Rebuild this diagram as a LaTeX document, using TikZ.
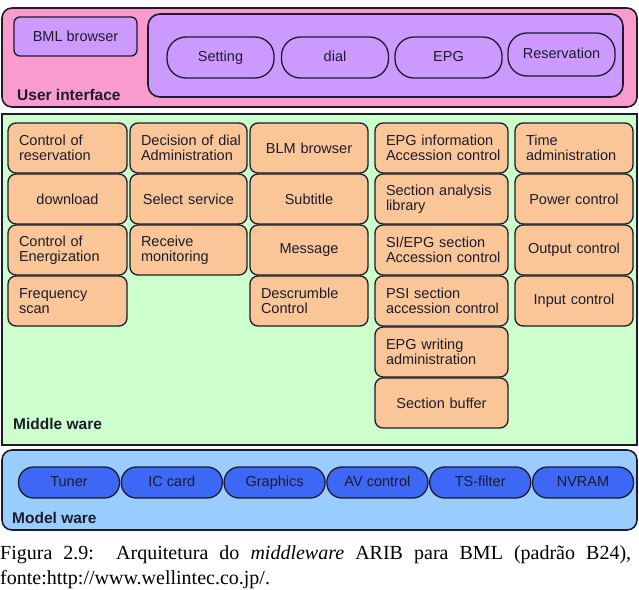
\documentclass[tikz,border=0pt]{standalone}
\usepackage{fontspec}
\setmainfont{Liberation Sans}
\newfontfamily\capfont{Liberation Serif}
\usepackage{tikz}

\definecolor{uipink}{RGB}{250,155,205}
\definecolor{uipurple}{RGB}{204,153,255}
\definecolor{mwgreen}{RGB}{204,255,204}
\definecolor{mworange}{RGB}{250,198,152}
\definecolor{hwlight}{RGB}{153,204,255}
\definecolor{hwblue}{RGB}{60,104,245}
\definecolor{ink}{RGB}{28,28,45}

\tikzset{
  layer/.style={draw=ink, line width=1.6pt},
  mwbox/.style={draw=ink, line width=1.3pt, fill=mworange, rounded corners=8pt,
    minimum height=50pt, inner xsep=11pt, text width=#1, text=ink,
    font=\fontsize{14.5}{15.5}\selectfont,
    execute at begin node={\hyphenpenalty=10000\exhyphenpenalty=10000}},
  uipill/.style={draw=ink, line width=1.3pt, fill=uipurple, rounded corners=19pt,
    minimum width=107pt, minimum height=41pt, text height=10.5pt, text depth=3pt,
    text=ink, font=\fontsize{14.5}{15.5}\selectfont},
  hwpill/.style={draw=ink, line width=1.3pt, fill=hwblue, rounded corners=15pt,
    minimum width=101pt, minimum height=31pt, text height=10.5pt, text depth=3pt,
    text=ink, font=\fontsize{14.5}{15.5}\selectfont},
  layername/.style={anchor=base west, inner sep=0pt, text=ink, font=\fontsize{15.5}{17}\bfseries\selectfont}
}

\begin{document}
\begin{tikzpicture}[x=1pt, y=-1pt]
  \useasboundingbox (0,0) rectangle (639,589);

  % User interface
  \draw[layer, fill=uipink, rounded corners=10pt] (2,8) rectangle (637,107);
  \draw[layer, fill=uipurple, rounded corners=12pt] (148,14) rectangle (623,97);
  \node[draw=ink, line width=1.3pt, fill=uipurple, rounded corners=6pt, minimum width=123pt,
    minimum height=39pt, text=ink, font=\fontsize{14.5}{15.5}\selectfont] (bml) at (75.5,36.5) {BML browser};
  \node[uipill] (setting) at (220.5,57.5) {Setting};
  \node[uipill] (dial) at (335,57.5) {dial};
  \node[uipill] (epg) at (448.5,57.5) {EPG};
  \node[uipill, minimum height=43pt] (reserv) at (561.5,54.5) {Reservation};
  \node[layername] (ui) at (17,100) {User interface};

  % Middle ware
  \draw[layer, fill=mwgreen] (2,114) rectangle (637,445);

  \node[mwbox=97pt, align=left] (ctrlres) at (67.5,148) {Control of\\reservation};
  \node[mwbox=97pt, align=center] (download) at (67.5,199) {download};
  \node[mwbox=97pt, align=left] (ctrlen) at (67.5,250) {Control of\\Energization};
  \node[mwbox=97pt, align=left] (freq) at (67.5,301) {Frequency\\scan};

  \node[mwbox=95pt, align=left] (decdial) at (188.5,148) {Decision~of~dial\\Administration};
  \node[mwbox=95pt, align=center] (selserv) at (188.5,199) {Select service};
  \node[mwbox=95pt, align=left] (recmon) at (188.5,250) {Receive\\monitoring};

  \node[mwbox=96pt, align=center] (blm) at (309,148) {BLM browser};
  \node[mwbox=96pt, align=center] (subtitle) at (309,199) {Subtitle};
  \node[mwbox=96pt, align=center] (message) at (309,250) {Message};
  \node[mwbox=96pt, align=left] (descr) at (309,301) {Descrumble\\Control};

  \node[mwbox=111pt, align=left] (epginfo) at (441.5,148) {EPG~information\\Accession~control};
  \node[mwbox=111pt, align=left] (seclib) at (441.5,199) {Section~analysis\\library};
  \node[mwbox=111pt, align=left] (siepg) at (441.5,250) {SI/EPG~section\\Accession~control};
  \node[mwbox=111pt, align=left] (psi) at (441.5,301) {PSI~section\\accession~control};
  \node[mwbox=111pt, align=left] (epgwr) at (441.5,352) {EPG~writing\\administration};
  \node[mwbox=111pt, align=center] (secbuf) at (441.5,403) {Section buffer};

  \node[mwbox=96pt, align=left] (time) at (574,148) {Time\\administration};
  \node[mwbox=96pt, align=center] (power) at (574,199) {Power control};
  \node[mwbox=96pt, align=center] (output) at (574,250) {Output control};
  \node[mwbox=96pt, align=center] (input) at (574,301) {Input control};

  \node[layername] (mw) at (13,429) {Middle ware};

  % Model ware
  \draw[layer, fill=hwlight, rounded corners=10pt] (2,450) rectangle (637,530);
  \foreach \n/\t [count=\i] in {tuner/Tuner, iccard/IC card, graphics/Graphics,
      avctrl/AV control, tsfilter/TS-filter, nvram/NVRAM}
    \node[hwpill] (\n) at ({69+102.8*(\i-1)},482.5) {\t};
  \node[layername] (hw) at (12,523) {Model ware};

  % caption
  \node[anchor=north west, inner sep=0pt, text width=631pt, align=justify,
    font=\capfont\fontsize{20}{25}\selectfont] (caption) at (0,545)
    {Figura 2.9:\ \ Arquitetura do \emph{middleware} ARIB para BML (padrão B24),\linebreak
     fonte:http://www.wellintec.co.jp/.};
\end{tikzpicture}
\end{document}
